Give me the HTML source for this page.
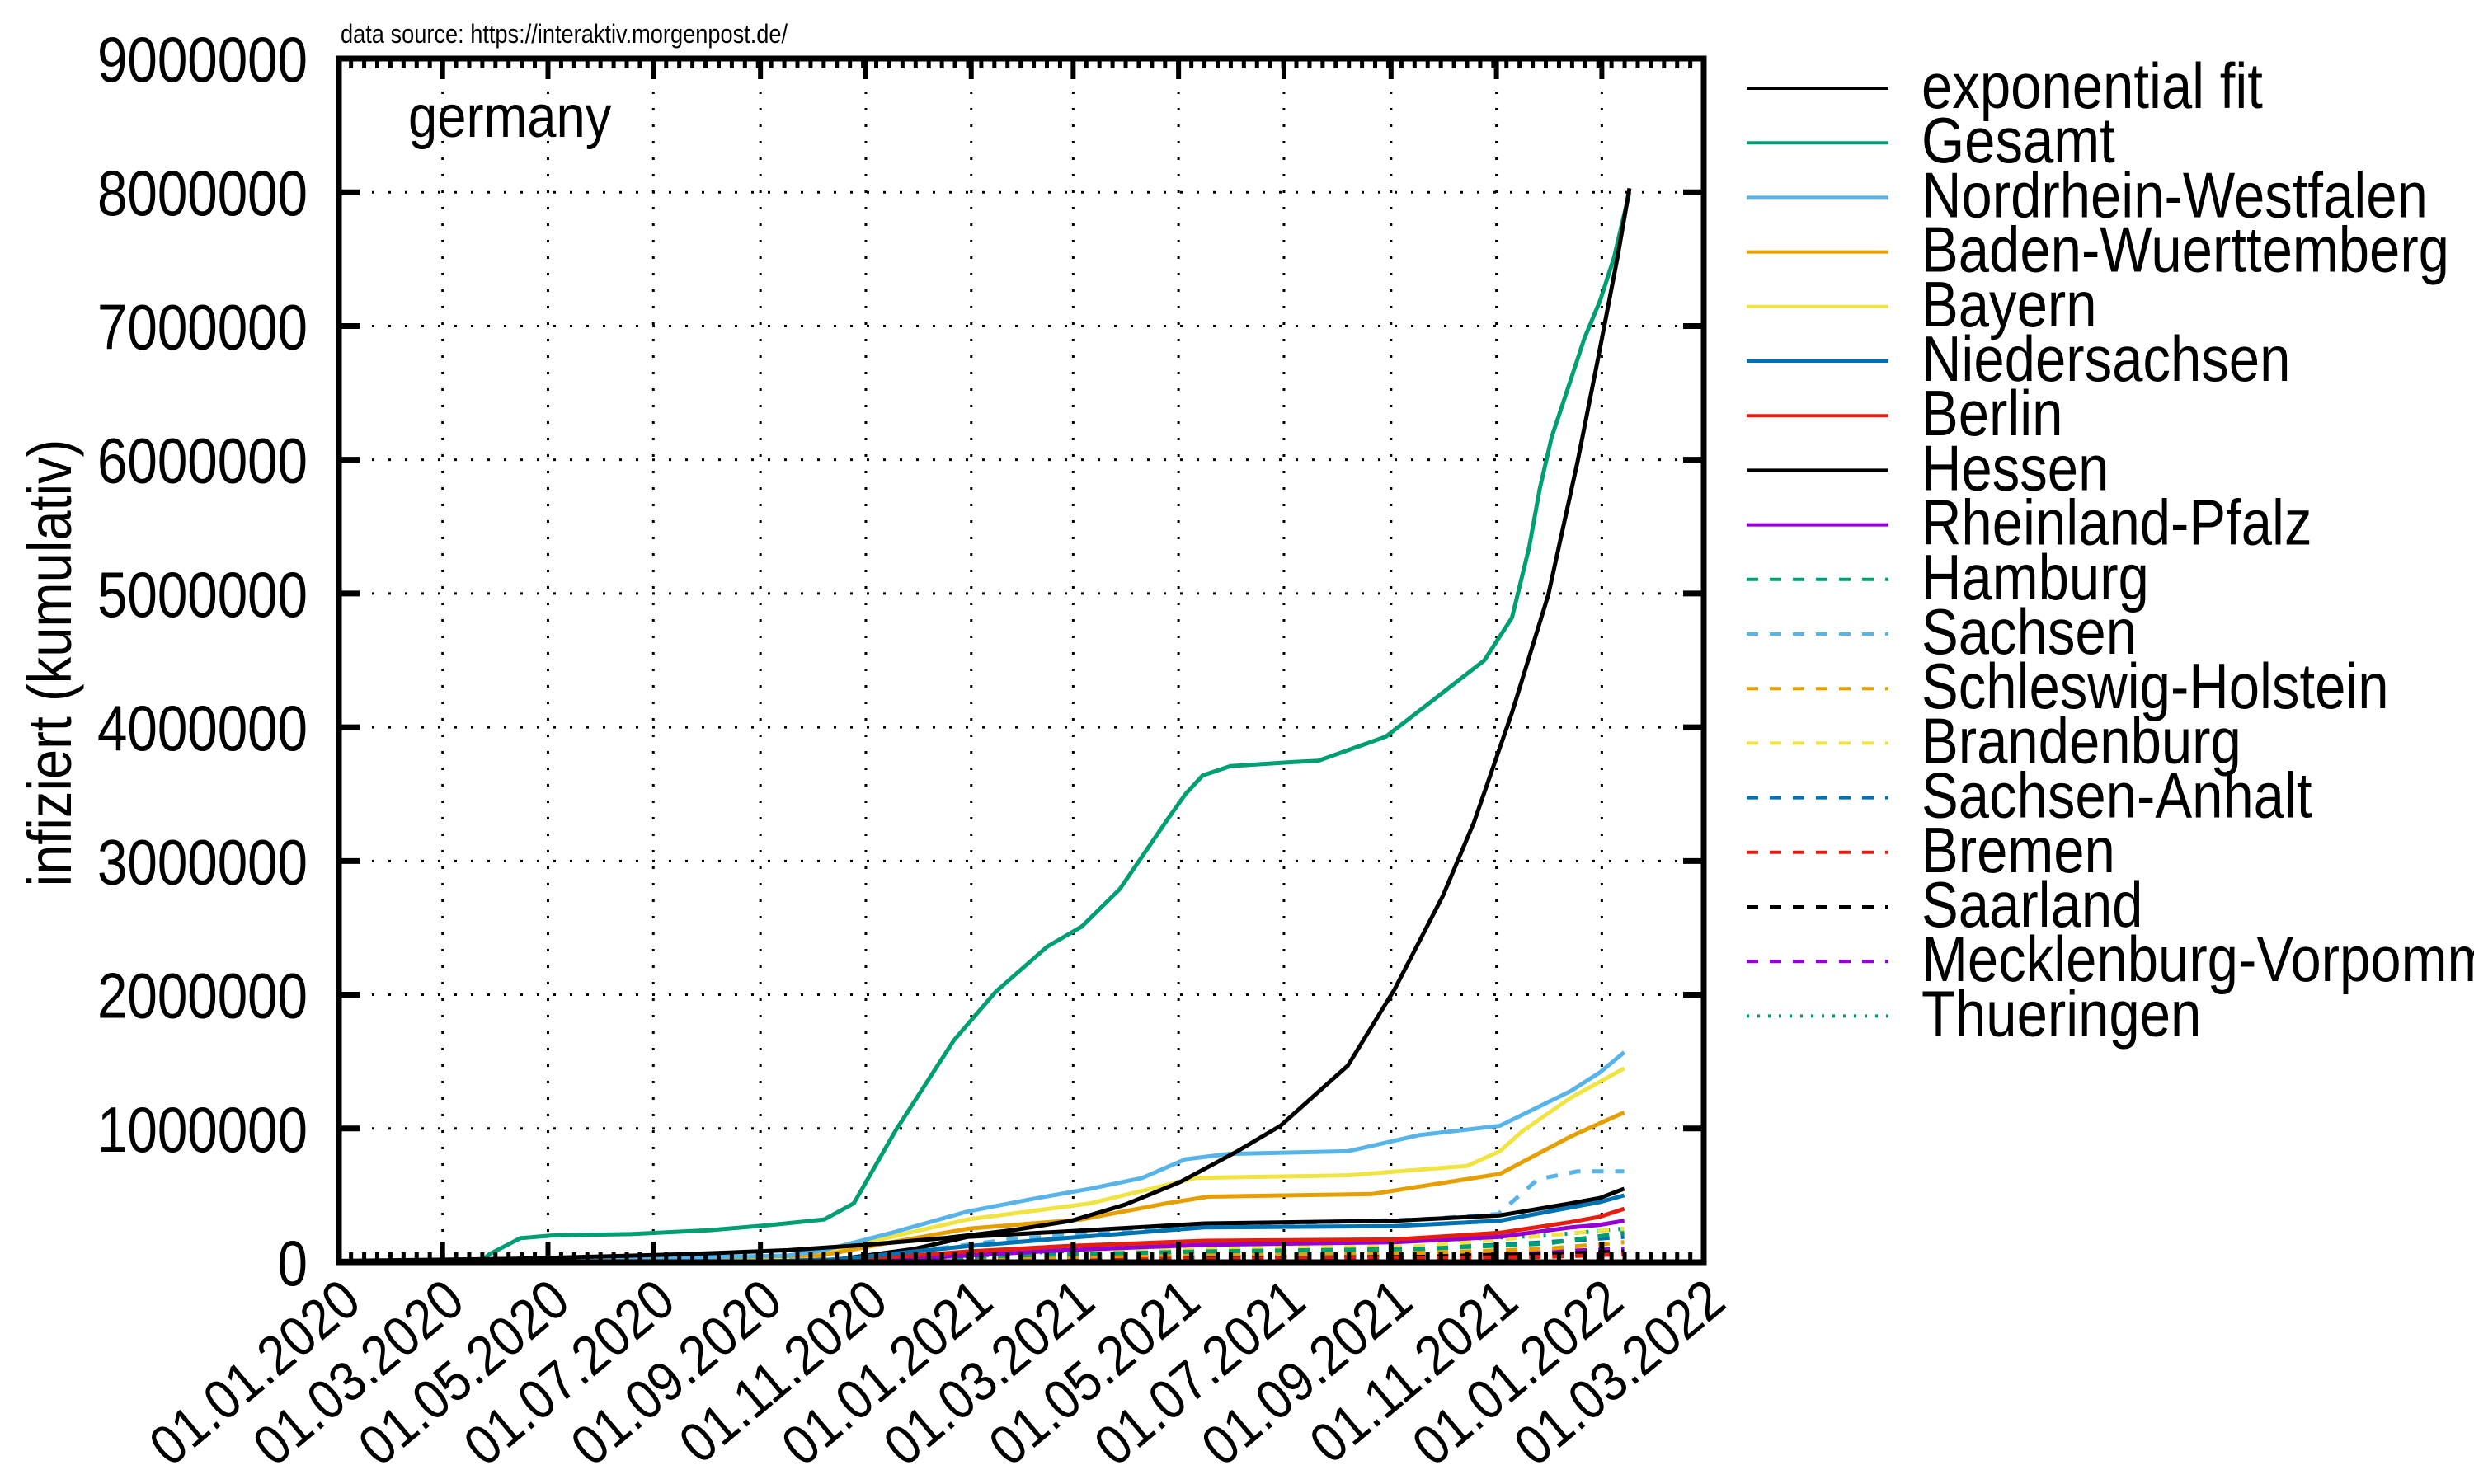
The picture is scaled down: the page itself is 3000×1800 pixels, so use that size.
<!DOCTYPE html>
<html><head><meta charset="utf-8"><style>
html,body{margin:0;padding:0;background:#fff}
svg{display:block}
text{font-family:"Liberation Sans",sans-serif;fill:#000}
</style></head><body>
<svg id="chart" width="3000" height="1800" viewBox="0 0 3000 1800" xmlns="http://www.w3.org/2000/svg">
<g id="grid"></g>
<g id="series"></g>
<g id="axes"></g>
<g id="legend"></g>
<text transform="translate(413,52) scale(0.85,1)" font-size="32">data source: https://interaktiv.morgenpost.de/</text>
<text transform="translate(495,166) scale(0.88,1)" font-size="72">germany</text>
<text transform="translate(86,804) rotate(-90) scale(0.88,1)" font-size="74" text-anchor="middle">infiziert (kumulativ)</text>
</svg>
<script>
// x: days since 01.01.2020, y: millions
const xTickDays=[0,60,121,182,244,305,366,425,486,547,609,670,731,790];
const xTickLabels=["01.01.2020","01.03.2020","01.05.2020","01.07.2020","01.09.2020","01.11.2020","01.01.2021","01.03.2021","01.05.2021","01.07.2021","01.09.2021","01.11.2021","01.01.2022","01.03.2022"];
const yTicks=[0,1,2,3,4,5,6,7,8,9];
const yTickLabels=["0","1000000","2000000","3000000","4000000","5000000","6000000","7000000","8000000","9000000"];

const fitDays=[0,100,200,260,305,350,390,424,455,487,520,545,584,611,639,657,679,700,717,729,740,747];
const fitVals=[0.01,0.025,0.06,0.09,0.13,0.18,0.24,0.31,0.43,0.6,0.83,1.02,1.47,2.04,2.74,3.29,4.11,4.99,5.99,6.77,7.51,8.03];
const gesDays=[82,87,105,123,169,215,251,281,298,322,356,380,410,430,452,479,490,500,516,553,567,606,638,663,679,689,695,702,711,721,730,738,747];
const gesVals=[0,0.06,0.18,0.2,0.21,0.24,0.28,0.32,0.44,0.98,1.66,2.02,2.36,2.51,2.79,3.3,3.5,3.64,3.71,3.74,3.75,3.93,4.25,4.5,4.82,5.35,5.78,6.17,6.52,6.91,7.19,7.51,8.0];
const nrwDays=[87,260,281,320,364,400,435,465,490,515,584,625,672,713,730,744];
const nrwVals=[0.005,0.05,0.09,0.22,0.38,0.47,0.55,0.63,0.77,0.81,0.83,0.95,1.02,1.28,1.42,1.57];
const bwDays=[87,279,320,364,430,479,503,598,672,713,730,744];
const bwVals=[0.01,0.05,0.15,0.25,0.32,0.44,0.49,0.51,0.66,0.94,1.04,1.12];
const byDays=[87,260,297,330,364,435,496,584,653,672,685,713,730,744];
const byVals=[0.01,0.04,0.12,0.22,0.32,0.44,0.63,0.65,0.72,0.83,0.98,1.23,1.35,1.45];
const nsDays=[240,288,333,364,420,501,611,672,713,730,744];
const nsVals=[0.005,0.02,0.08,0.12,0.18,0.26,0.27,0.31,0.41,0.45,0.5];
const beDays=[240,288,333,364,420,501,611,672,713,730,744];
const beVals=[0.005,0.015,0.05,0.08,0.12,0.16,0.17,0.22,0.30,0.34,0.4];
const heDays=[240,288,333,364,420,501,611,672,713,730,744];
const heVals=[0.005,0.02,0.1,0.19,0.23,0.29,0.31,0.35,0.44,0.48,0.55];
const rpDays=[240,288,333,364,420,501,611,672,713,730,744];
const rpVals=[0.003,0.01,0.03,0.05,0.09,0.13,0.15,0.19,0.26,0.28,0.31];
const saDays=[240,288,333,388,461,498,571,626,671,694,717,744];
const saVals=[0.003,0.02,0.08,0.17,0.24,0.28,0.3,0.32,0.36,0.62,0.68,0.68];
const hhDays=[288,388,498,626,699,744];
const hhVals=[0.005,0.05,0.08,0.1,0.14,0.22];
const shDays=[288,388,498,626,699,744];
const shVals=[0.003,0.03,0.06,0.07,0.1,0.15];
const bbDays=[288,388,498,626,699,744];
const bbVals=[0.003,0.05,0.1,0.12,0.2,0.25];
const stDays=[288,388,498,626,699,744];
const stVals=[0.003,0.04,0.08,0.1,0.15,0.19];
const hbDays=[288,388,498,626,699,744];
const hbVals=[0.001,0.015,0.025,0.03,0.04,0.06];
const slDays=[288,388,498,626,699,744];
const slVals=[0.001,0.02,0.04,0.045,0.06,0.08];
const mvDays=[288,388,498,626,699,744];
const mvVals=[0.001,0.02,0.04,0.05,0.08,0.1];
const thDays=[288,388,498,626,699,744];
const thVals=[0.003,0.06,0.14,0.16,0.2,0.25];

const L=411,R=2066,T=71,B=1531;
const xs=d=>L+(d/790)*(R-L);
const ys=v=>B-(v/9)*(B-T);
const NS="http://www.w3.org/2000/svg";
function mk(tag,attrs,parent){const e=document.createElementNS(NS,tag);for(const k in attrs)e.setAttribute(k,attrs[k]);parent.appendChild(e);return e;}
const grid=document.getElementById('grid'),axes=document.getElementById('axes'),ser=document.getElementById('series'),leg=document.getElementById('legend');

yTicks.forEach((v,i)=>{
  const y=ys(v);
  if(i>0&&i<9){const g=mk('line',{x1:L,x2:R,y1:y,y2:y,stroke:'#000','stroke-width':3,'stroke-dasharray':'3 17'},grid);
  
  }
  const t1=mk('line',{x1:L,x2:L+25,y1:y,y2:y,stroke:'#000','stroke-width':7},axes);
  
  
  const t2=mk('line',{x1:R-25,x2:R,y1:y,y2:y,stroke:'#000','stroke-width':7},axes);
  
  
  const tx=mk('text',{transform:`translate(373,${y+28}) scale(0.84,1)`,'font-size':78,'text-anchor':'end'},axes);
  tx.textContent=yTickLabels[i];
  
  
});
xTickDays.forEach((d,i)=>{
  const x=xs(d);
  if(i>0&&i<13){const g=mk('line',{x1:x,x2:x,y1:T,y2:B,stroke:'#000','stroke-width':3,'stroke-dasharray':'3 17'},grid);
  
  }
  const t1=mk('line',{x1:x,x2:x,y1:B,y2:B-25,stroke:'#000','stroke-width':6},axes);
  
  
  const t2=mk('line',{x1:x,x2:x,y1:T,y2:T+25,stroke:'#000','stroke-width':6},axes);
  
  
  const tx=mk('text',{transform:`translate(${x+30},${B+53}) rotate(-40) scale(0.9,1)`,'font-size':68,'text-anchor':'end'},axes);
  tx.textContent=xTickLabels[i];
  
  
});
for(let d=7;d<790;d+=7.6){
  const x=xs(d);
  const m1=mk('line',{x1:x,x2:x,y1:B,y2:B-12,stroke:'#000','stroke-width':5},axes);
  
  
  const m2=mk('line',{x1:x,x2:x,y1:T,y2:T+12,stroke:'#000','stroke-width':5},axes);
  
  
}
const fr=mk('rect',{x:L,y:T,width:R-L,height:B-T,fill:'none',stroke:'#000','stroke-width':7},axes);



const S=[
 ['exponential fit','#000',fitDays,fitVals,''],
 ['Gesamt','#009e73',gesDays,gesVals,''],
 ['Nordrhein-Westfalen','#56b4e9',nrwDays,nrwVals,''],
 ['Baden-Wuerttemberg','#e69f00',bwDays,bwVals,''],
 ['Bayern','#f0e442',byDays,byVals,''],
 ['Niedersachsen','#0072b2',nsDays,nsVals,''],
 ['Berlin','#e51e10',beDays,beVals,''],
 ['Hessen','#000',heDays,heVals,''],
 ['Rheinland-Pfalz','#9400d3',rpDays,rpVals,''],
 ['Hamburg','#009e73',hhDays,hhVals,'14 14'],
 ['Sachsen','#56b4e9',saDays,saVals,'14 14'],
 ['Schleswig-Holstein','#e69f00',shDays,shVals,'14 14'],
 ['Brandenburg','#f0e442',bbDays,bbVals,'14 14'],
 ['Sachsen-Anhalt','#0072b2',stDays,stVals,'14 14'],
 ['Bremen','#e51e10',hbDays,hbVals,'14 14'],
 ['Saarland','#000',slDays,slVals,'14 14'],
 ['Mecklenburg-Vorpommern','#9400d3',mvDays,mvVals,'14 14'],
 ['Thueringen','#009e73',thDays,thVals,'3 10']
];
S.slice().reverse().forEach(s=>{
  const pts=s[2].map((d,i)=>xs(d).toFixed(1)+','+ys(s[3][i]).toFixed(1)).join(' ');
  const p=mk('polyline',{points:pts,fill:'none',stroke:s[1],'stroke-width':5,'stroke-linejoin':'round'},ser);
  if(s[4])p.setAttribute('stroke-dasharray',s[4]);
  
  
});
S.forEach((s,i)=>{
  const y=107+i*66.2;
  const l=mk('line',{x1:2118,x2:2290,y1:y,y2:y,stroke:s[1],'stroke-width':4},leg);
  if(s[4])l.setAttribute('stroke-dasharray',s[4]);
  
  
  const t=mk('text',{transform:`translate(2330,${y+24}) scale(0.86,1)`,'font-size':78},leg);
  t.textContent=s[0];
  
  
});
</script>
</body></html>
